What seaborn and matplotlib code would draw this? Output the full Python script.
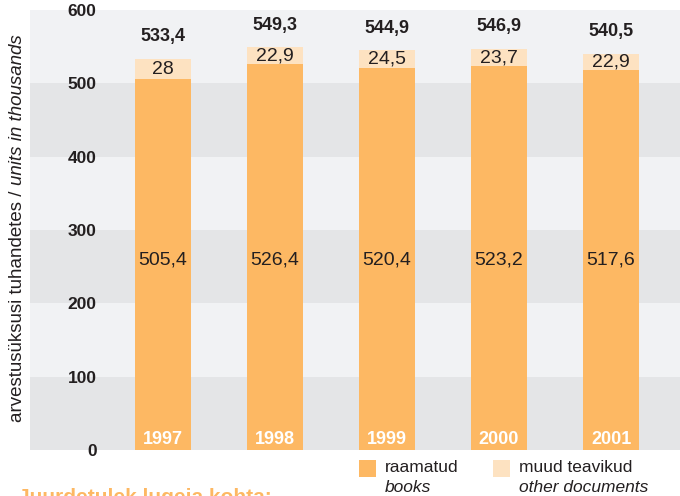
import numpy as np
import pandas as pd
import matplotlib
matplotlib.use("Agg")
import matplotlib.pyplot as plt
import seaborn as sns

# andmed / data
years = ["1997", "1998", "1999", "2000", "2001"]
books = [505.4, 526.4, 520.4, 523.2, 517.6]
other = [28.0, 22.9, 24.5, 23.7, 22.9]
totals = [533.4, 549.3, 544.9, 546.9, 540.5]
legend_et = ["raamatud", "muud teavikud"]
legend_en = ["books", "other documents"]
y_ticks = [0, 100, 200, 300, 400, 500, 600]


def fmt(v):
    s = ("%.1f" % v).rstrip("0").rstrip(".")
    return s.replace(".", ",")


c_books = "#FDB863"
c_other = "#FDE2C1"
band_light = "#F1F2F4"
band_dark = "#E4E5E7"
txt = "#231F20"

sns.set_style("white")
plt.rcParams["font.family"] = ["Liberation Sans", "DejaVu Sans"]

df = pd.DataFrame({"year": years, "books": books, "other": other, "total": totals})

fig = plt.figure(figsize=(6.8, 4.96), dpi=100)
W, H = 680, 496
ax = fig.add_axes([30 / W, (H - 450) / H, 650 / W, 440 / H])

# taustaribad
for i in range(6):
    ax.axhspan(i * 100, (i + 1) * 100, color=band_dark if i % 2 == 0 else band_light,
               zorder=0, lw=0)

sns.barplot(data=df, x="year", y="total", color=c_other, saturation=1, width=0.5,
            linewidth=0, edgecolor="none", ax=ax, zorder=2)
sns.barplot(data=df, x="year", y="books", color=c_books, saturation=1, width=0.5,
            linewidth=0, edgecolor="none", ax=ax, zorder=3)

ax.set_xlim(-1.1875, 4.616)
ax.set_ylim(0, 600)
ax.set_xlabel("")
ax.set_ylabel("")
ax.set_xticks([])
ax.set_yticks(y_ticks)
ax.set_yticklabels([str(t) for t in y_ticks], fontsize=12.5, fontweight="bold", color=txt)
ax.tick_params(axis="y", length=0, pad=-48)
for s in ax.spines.values():
    s.set_visible(False)

mid = np.mean(books) / 2
for i in range(len(years)):
    ax.text(i, mid, fmt(books[i]), ha="center", va="center", fontsize=14, color=txt, zorder=5)
    ax.text(i, books[i] + other[i] / 2, fmt(other[i]), ha="center", va="center",
            fontsize=14, color=txt, zorder=5)
    ax.text(i, totals[i] + 30, fmt(totals[i]), ha="center", va="center",
            fontsize=13, fontweight="bold", color=txt, zorder=5)
    ax.text(i, 14, years[i], ha="center", va="center", fontsize=13,
            fontweight="bold", color="white", zorder=5)

# y-telje pealkiri, kaks stiili
t1 = fig.text(18 / W, 1 - 422 / H, "arvestusüksusi tuhandetes / ", rotation=90,
              ha="center", va="bottom", fontsize=13.5, color=txt)
fig.canvas.draw()
bb = t1.get_window_extent()
fig.text(18 / W, bb.y1 / fig.bbox.height, "units in thousands", rotation=90,
         ha="center", va="bottom", fontsize=13.5, style="italic", color=txt)

# legend
for k, (lx, c) in enumerate(zip([359, 493], [c_books, c_other])):
    fig.patches.append(plt.Rectangle((lx / W, 1 - 477 / H), 17 / W, 17 / H,
                                     transform=fig.transFigure, color=c, lw=0))
    fig.text((lx + 26) / W, 1 - 468 / H, legend_et[k], ha="left", va="center",
             fontsize=12.5, color=txt)
    fig.text((lx + 26) / W, 1 - 487 / H, legend_en[k], ha="left", va="center",
             fontsize=12.5, style="italic", color=txt)

fig.text(18 / W, 1 - 488 / H, "Juurdetulek lugeja kohta:", ha="left", va="top",
         fontsize=15, fontweight="bold", color=c_books)

fig.savefig("out.png", dpi=100)
